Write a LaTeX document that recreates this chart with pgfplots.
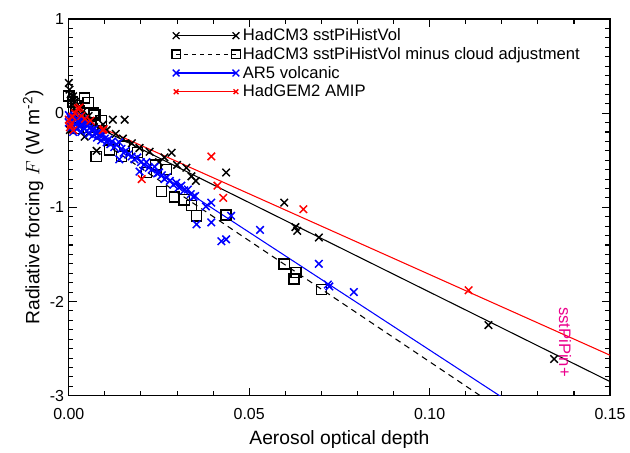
\documentclass[border=0pt]{standalone}
\usepackage{pgfplots}
\pgfplotsset{compat=1.18}
\usepackage{fontspec}
\setmainfont{Liberation Sans}
\begin{document}
\begin{tikzpicture}
\begin{axis}[
  scale only axis, width=407.25pt, height=283.5pt,
  xmin=0, xmax=0.15, ymin=-3, ymax=1,
  xtick={0,0.05,0.1,0.15}, ytick={-3,-2,-1,0,1},
  minor x tick num=4, minor y tick num=9,
  tick align=inside, major tick length=6pt, minor tick length=3.5pt,
  tick style={black, line width=0.8pt},
  axis line style={line width=1pt},
  /pgf/number format/assume math mode=true,
  scaled x ticks=false,
  xticklabel style={/pgf/number format/.cd, fixed, fixed zerofill, precision=2, /tikz/.cd, yshift=-6pt},
  tick label style={font=\fontsize{12}{14}\selectfont},
  label style={font=\fontsize{14.5}{16}\selectfont},
  xlabel style={yshift=-1pt},
  ylabel style={yshift=-2pt},
  xlabel={Aerosol optical depth},
  ylabel={Radiative forcing $F$ (W m\textsuperscript{-2})},
  legend style={at={(axis description cs:0.19,0.982)}, anchor=north west, draw=none, fill=none,
    font=\fontsize{12.5}{13}\selectfont, row sep=-0.5pt, inner sep=0pt},
  legend cell align=left,
  legend image code/.code={\draw[#1] plot coordinates {(0pt,0pt) (45pt,0pt)};},
]
\addlegendimage{black, line width=0.8pt, mark=x, mark size=3.6pt, mark options={line width=1pt}}
\addlegendimage{black, line width=0.8pt, dashed, mark=square, mark size=3.2pt, mark options={solid, line width=1pt}}
\addlegendimage{blue, line width=0.8pt, mark=x, mark size=3.6pt, mark options={line width=1pt}}
\addlegendimage{red, line width=0.8pt, mark=x, mark size=2.5pt, mark options={line width=1pt}}
\legend{HadCM3 sstPiHistVol, HadCM3 sstPiHistVol minus cloud adjustment, AR5 volcanic, HadGEM2 AMIP}

% fit lines
\addplot[black, line width=0.8pt, forget plot] coordinates {(0,0) (0.15,-2.85)};
\addplot[red, line width=0.8pt, forget plot] coordinates {(0,0.0) (0.15,-2.57)};
\addplot[blue, line width=0.8pt, forget plot] coordinates {(0,-0.015) (0.13,-3.265)};
\addplot[black, line width=0.8pt, dash pattern=on 4.5pt off 3.5pt, forget plot] coordinates {(0,-0.07) (0.13,-3.41)};

% HadCM3 minus cloud adjustment (squares)
\addplot[only marks, black, mark=square, mark size=3.8pt, line width=1.1pt, forget plot] table {
x y
0.0000 0.18
0.0010 0.12
0.0020 0.08
0.0030 0.02
0.0044 0.16
0.0054 0.11
0.0068 0.00
0.0072 -0.02
0.0025 -0.16
0.0050 -0.15
0.0076 -0.46
0.0090 -0.08
0.0113 -0.39
0.0146 -0.46
0.0155 -0.35
0.0190 -0.42
0.0215 -0.63
0.0240 -0.55
0.0257 -0.83
0.0270 -0.60
0.0293 -0.89
0.0320 -0.92
0.0340 -0.98
0.0354 -1.09
0.0436 -1.08
0.0597 -1.60
0.0630 -1.69
0.0624 -1.76
0.0700 -1.87
0.1163 -3.01
};

% HadCM3 sstPiHistVol (black x)
\addplot[only marks, black, mark=x, mark size=4pt, line width=1.1pt, forget plot] table {
x y
0.0000 0.32
0.0002 0.25
0.0005 0.20
0.0008 0.15
0.0010 0.10
0.0012 0.18
0.0015 0.05
0.0018 0.12
0.0020 0.00
0.0022 0.08
0.0025 -0.05
0.0003 -0.18
0.0030 0.03
0.0035 -0.02
0.0040 0.02
0.0044 -0.25
0.0050 -0.05
0.0055 -0.03
0.0060 -0.10
0.0070 -0.08
0.0077 -0.40
0.0085 -0.15
0.0095 -0.12
0.0105 -0.18
0.0122 -0.07
0.0155 -0.07
0.0130 -0.22
0.0150 -0.27
0.0175 -0.32
0.0196 -0.37
0.0224 -0.41
0.0250 -0.52
0.0265 -0.47
0.0285 -0.42
0.0300 -0.55
0.0326 -0.58
0.0340 -0.67
0.0352 -0.72
0.0436 -0.63
0.0597 -0.95
0.0628 -1.21
0.0633 -1.25
0.0693 -1.32
0.1163 -2.25
0.1345 -2.61
};

% AR5 volcanic (blue x)
\addplot[only marks, blue, mark=x, mark size=4pt, line width=1.1pt, forget plot] table {
x y
0.0000 -0.02
0.0000 -0.10
0.0005 -0.05
0.0008 -0.15
0.0010 -0.08
0.0012 -0.20
0.0015 -0.03
0.0018 -0.12
0.0020 -0.06
0.0022 -0.17
0.0025 -0.10
0.0028 -0.04
0.0030 -0.14
0.0033 -0.09
0.0035 -0.20
0.0038 -0.12
0.0040 -0.07
0.0043 -0.16
0.0046 -0.11
0.0050 -0.19
0.0053 -0.13
0.0056 -0.22
0.0060 -0.15
0.0063 -0.18
0.0066 -0.24
0.0070 -0.17
0.0074 -0.21
0.0078 -0.26
0.0082 -0.20
0.0086 -0.24
0.0090 -0.29
0.0095 -0.23
0.0100 -0.27
0.0105 -0.31
0.0110 -0.28
0.0115 -0.33
0.0120 -0.30
0.0126 -0.36
0.0132 -0.33
0.0140 -0.31
0.0140 -0.49
0.0146 -0.38
0.0152 -0.42
0.0158 -0.40
0.0165 -0.44
0.0174 -0.46
0.0182 -0.49
0.0190 -0.47
0.0196 -0.62
0.0200 -0.52
0.0208 -0.55
0.0215 -0.52
0.0222 -0.58
0.0230 -0.60
0.0238 -0.57
0.0245 -0.64
0.0250 -0.63
0.0258 -0.66
0.0265 -0.70
0.0272 -0.68
0.0280 -0.72
0.0290 -0.76
0.0298 -0.74
0.0305 -0.79
0.0312 -0.77
0.0320 -0.82
0.0330 -0.81
0.0338 -0.86
0.0345 -0.89
0.0350 -0.88
0.0354 -1.18
0.0380 -0.99
0.0395 -0.95
0.0395 -1.16
0.0423 -1.36
0.0436 -1.34
0.0450 -1.09
0.0530 -1.24
0.0693 -1.60
0.0718 -1.82
0.0722 -1.84
0.0790 -1.90
0.1260 -3.05
};

% HadGEM2 AMIP (red x)
\addplot[only marks, red, mark=x, mark size=4pt, line width=1.1pt, forget plot] table {
x y
0.0000 -0.07
0.0003 -0.15
0.0005 -0.12
0.0010 -0.04
0.0013 -0.18
0.0017 0.00
0.0025 0.05
0.0030 0.06
0.0035 -0.03
0.0045 -0.06
0.0060 -0.08
0.0094 -0.18
0.0097 -0.17
0.0202 -0.70
0.0395 -0.46
0.0412 -0.77
0.0428 -0.90
0.0650 -1.02
0.1108 -1.88
};

\node[rotate=-90, text=magenta, font=\fontsize{12.5}{14}\selectfont] at (axis cs:0.1375,-2.43) {sstPiPin+};
\end{axis}
\path ([shift={(-51.75pt,-40.5pt)}]current axis.south west) rectangle ([shift={(13.5pt,14.25pt)}]current axis.north east);
\end{tikzpicture}
\end{document}
